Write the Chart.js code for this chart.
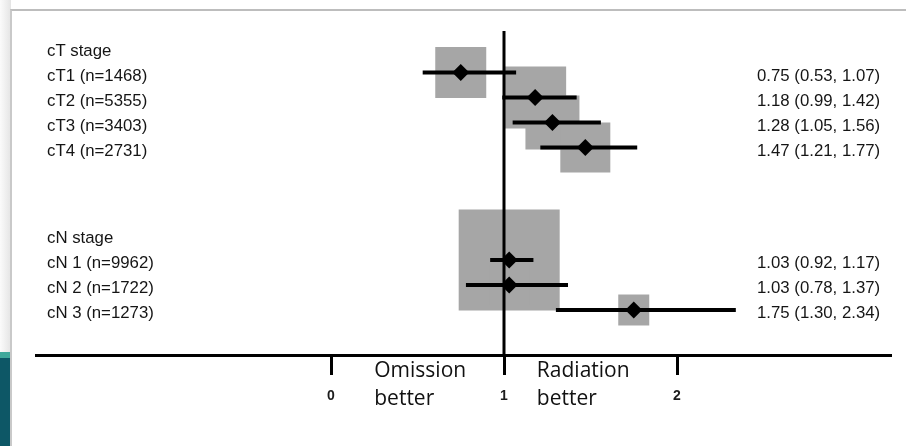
<!DOCTYPE html>
<html>
<head>
<meta charset="utf-8">
<title>Radiation vs omission by cT / cN stage</title>
<script src="https://cdn.jsdelivr.net/npm/chart.js@4.4.1/dist/chart.umd.min.js"></script>
<style>
  html, body { margin: 0; padding: 0; background: #fff; }
  #wrap { position: relative; width: 906px; height: 446px; overflow: hidden; }
  #shade { position: absolute; left: 0; top: 0; width: 11px; height: 352px; background: linear-gradient(to right, #fbfbfb, #e4e4e4); }
  #strip { position: absolute; left: 0; top: 352px; width: 10px; height: 94px; background: linear-gradient(#3fa89b 0, #3fa89b 6px, #0d5766 6px); }
  #frame { position: absolute; left: 10px; top: 9px; right: 0; bottom: 0; border-top: 2px solid #bdbdbd; border-left: 2px solid #c9c9c9; }
  canvas { position: absolute; left: 0; top: 0; }
</style>
</head>
<body>
<div id="wrap">
  <div id="shade"></div>
  <div id="strip"></div>
  <div id="frame"></div>
  <canvas id="forest" width="906" height="446"></canvas>
</div>
<script>
'use strict';

// data
var groups = ['cT stage', 'cN stage'];
var categories = ['cT1 (n=1468)', 'cT2 (n=5355)', 'cT3 (n=3403)', 'cT4 (n=2731)',
  'cN 1 (n=9962)', 'cN 2 (n=1722)', 'cN 3 (n=1273)'];
var groupOf = [0, 0, 0, 0, 1, 1, 1];
var estimates = [0.75, 1.18, 1.28, 1.47, 1.03, 1.03, 1.75];
var lower = [0.53, 0.99, 1.05, 1.21, 0.92, 0.78, 1.30];
var upper = [1.07, 1.42, 1.56, 1.77, 1.17, 1.37, 2.34];
var weights = [5.1, 6.2, 5.4, 5.0, 10.1, 4.0, 3.1];
var tickValues = [0, 1, 2];
var sideLabels = [['Omission', 'better'], ['Radiation', 'better']];

// layout
var GROUP_GAP = 3.5;
var ROW_TOP = -1.5;
var ROW_BOTTOM = 12.3;
var REF_TOP = -0.66;
var X_MIN = -1.7052;
var X_MAX = 3.2312;
var BOX_SCALE = 10;
var LABEL_FONT = '16.8px "Liberation Sans", Arial, sans-serif';

// work out row numbers: header row, then one row per category
var headerRows = [];
var itemRows = [];
var row = 0;
for (var g = 0; g < groups.length; g++) {
  headerRows.push(row);
  for (var i = 0; i < categories.length; i++) {
    if (groupOf[i] === g) {
      row += 1;
      itemRows[i] = row;
    }
  }
  row += GROUP_GAP;
}

function pointsAt(values){
  return values.map(function(v, i){ return {x: v, y: itemRows[i]}; });
}

function statText(i){
  return estimates[i].toFixed(2) + ' (' + lower[i].toFixed(2) + ', ' + upper[i].toFixed(2) + ')';
}

// datasets (first one ends up on top)
var datasets = [];
datasets.push({
  label: 'estimate',
  data: pointsAt(estimates),
  pointStyle: 'rectRot',
  pointRadius: 8.5,
  backgroundColor: '#000',
  borderWidth: 0
});
for (var k = 0; k < categories.length; k++) {
  datasets.push({
    label: categories[k],
    data: [{x: lower[k], y: itemRows[k]}, {x: upper[k], y: itemRows[k]}],
    showLine: true,
    pointRadius: 0,
    borderColor: '#000',
    borderWidth: 4,
    borderCapStyle: 'butt'
  });
}
datasets.push({
  label: 'no difference',
  data: [{x: 1, y: REF_TOP}, {x: 1, y: ROW_BOTTOM}],
  showLine: true,
  pointRadius: 0,
  borderColor: '#000',
  borderWidth: 3,
  borderCapStyle: 'butt'
});
datasets.push({
  label: 'weight',
  data: pointsAt(estimates),
  pointStyle: 'rect',
  pointRadius: weights.map(function(w){ return w * BOX_SCALE / Math.SQRT2; }),
  backgroundColor: '#a6a6a6',
  borderWidth: 0
});

// row labels, numbers on the right and the two "better" notes
var forestText = {
  id: 'forestText',
  afterDraw: function(chart){
    var ctx = chart.ctx;
    var xs = chart.scales.x;
    var ys = chart.scales.y;
    ctx.save();
    ctx.fillStyle = '#151515';
    ctx.textAlign = 'left';
    ctx.textBaseline = 'alphabetic';
    ctx.font = LABEL_FONT;
    for (var g = 0; g < groups.length; g++) {
      ctx.fillText(groups[g], 47, ys.getPixelForValue(headerRows[g]) + 8);
    }
    for (var i = 0; i < categories.length; i++) {
      var y = ys.getPixelForValue(itemRows[i]) + 8;
      ctx.fillText(categories[i], 47, y);
      ctx.fillText(statText(i), 757, y);
    }
    ctx.fillStyle = '#111';
    ctx.font = '21px "Open Sans", sans-serif';
    var anchors = [0.25, 1.19];
    var bottom = chart.chartArea.bottom;
    for (var s = 0; s < sideLabels.length; s++) {
      var x = xs.getPixelForValue(anchors[s]);
      ctx.fillText(sideLabels[s][0], x, bottom + 22);
      ctx.fillText(sideLabels[s][1], x, bottom + 50);
    }
    ctx.restore();
  }
};

new Chart(document.getElementById('forest').getContext('2d'), {
  type: 'scatter',
  data: {datasets: datasets},
  options: {
    responsive: false,
    animation: false,
    events: [],
    layout: {autoPadding: false, padding: {left: 36, right: 16, top: 10, bottom: 0}},
    plugins: {
      legend: {display: false},
      tooltip: {enabled: false}
    },
    scales: {
      x: {
        type: 'linear',
        min: X_MIN,
        max: X_MAX,
        afterBuildTicks: function(scale){
          scale.ticks = tickValues.map(function(v){ return {value: v}; });
        },
        afterFit: function(scale){
          scale.height = 91;
        },
        ticks: {
          padding: 13,
          maxRotation: 0,
          color: '#1c1c1c',
          font: {family: '"Liberation Sans", Arial, sans-serif', size: 14, weight: 'bold'},
          callback: function(v){ return String(v); }
        },
        grid: {
          drawOnChartArea: false,
          drawTicks: true,
          tickLength: 20,
          tickWidth: 3,
          tickColor: '#000',
          lineWidth: 3,
          color: '#000'
        },
        border: {display: true, color: '#000', width: 3}
      },
      y: {
        type: 'linear',
        display: false,
        reverse: true,
        min: ROW_TOP,
        max: ROW_BOTTOM
      }
    }
  },
  plugins: [forestText]
});
</script>
</body>
</html>
